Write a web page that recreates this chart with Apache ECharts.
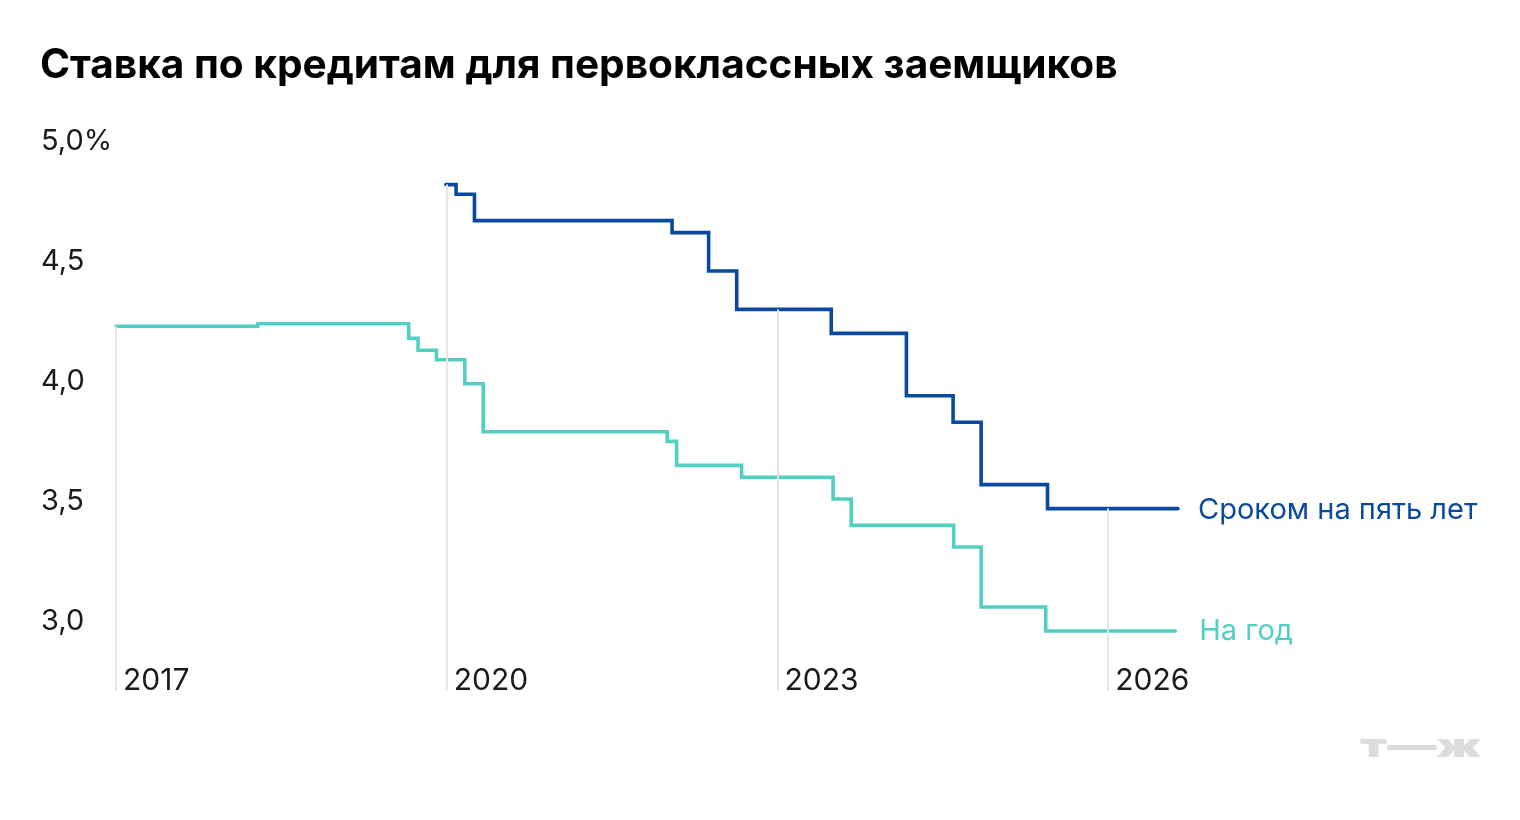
<!DOCTYPE html>
<html>
<head>
<meta charset="utf-8">
<script src="https://cdn.jsdelivr.net/npm/echarts@6/dist/echarts.min.js"></script>
<style>
html,body{margin:0;padding:0;background:#fff;}
#chart{width:1520px;height:820px;}
</style>
</head>
<body>
<div id="chart"></div>
<script>
// ---- data ----
const titleText = 'Ставка по кредитам для первоклассных заемщиков';
const oneYearName = 'На год';
const fiveYearName = 'Сроком на пять лет';

const oneYearDates = ['2017-01-01','2018-04-15','2019-08-28','2019-09-28','2019-11-28','2020-03-01','2020-05-01','2022-01-01','2022-02-01','2022-09-04','2023-07-04','2023-09-02','2024-08-07','2024-11-06','2025-06-08','2026-08-11'];
const oneYearRates = [4.27,4.28,4.22,4.17,4.13,4.03,3.83,3.79,3.69,3.64,3.55,3.44,3.35,3.10,3.00,3.00];

const fiveYearDates = ['2019-12-29','2020-02-01','2020-04-02','2022-01-17','2022-05-18','2022-08-19','2023-06-28','2024-03-03','2024-08-05','2024-11-06','2025-06-14','2026-08-20'];
const fiveYearRates = [4.86,4.82,4.71,4.66,4.50,4.34,4.24,3.98,3.87,3.61,3.51,3.51];

const yearTicks = [2017, 2020, 2023, 2026];
const rateTicks = [3.0, 3.5, 4.0, 4.5, 5.0];

// ---- helpers ----
function toYear(s) {
  const d = Date.parse(s + 'T00:00:00Z');
  const y = new Date(d).getUTCFullYear();
  const a = Date.UTC(y, 0, 1), b = Date.UTC(y + 1, 0, 1);
  return y + (d - a) / (b - a);
}
function pts(dates, rates) { return dates.map((d, i) => [toYear(d), rates[i]]); }
function valueAt(dates, rates, yr) {
  let v = null;
  dates.forEach((d, i) => { if (toYear(d) <= yr + 1e-9) v = rates[i]; });
  return v;
}

const oneYearData = pts(oneYearDates, oneYearRates);
const fiveYearData = pts(fiveYearDates, fiveYearRates);
const xMin = 2017;
const xMax = Math.max(oneYearData[oneYearData.length - 1][0], fiveYearData[fiveYearData.length - 1][0]);
const yMin = 2.75, yMax = 5.0;

const gridLines = yearTicks.map(yr => {
  const a = valueAt(oneYearDates, oneYearRates, yr);
  const b = valueAt(fiveYearDates, fiveYearRates, yr);
  const top = Math.max(a == null ? -Infinity : a, b == null ? -Infinity : b);
  return [{ coord: [yr, top] }, { coord: [yr, yMin] }];
});

const blue = '#0a4a9e';
const teal = '#52cfc3';
const FONT = 'Inter, "Noto Sans", sans-serif';

const chart = echarts.init(document.getElementById('chart'), null, { renderer: 'canvas' });
chart.setOption({
  backgroundColor: '#ffffff',
  animation: false,
  title: {
    text: titleText,
    left: 40, top: 45, padding: 0,
    textStyle: { fontFamily: FONT, fontWeight: 700, fontSize: 40.6, color: '#000' }
  },
  grid: { left: 116, right: 342, top: 151, bottom: 129, containLabel: false },
  xAxis: {
    type: 'value', min: xMin, max: xMax,
    axisLine: { show: false }, axisTick: { show: false }, splitLine: { show: false },
    axisLabel: {
      inside: true, margin: -1, customValues: yearTicks,
      align: 'left', verticalAlign: 'bottom', lineHeight: 22, padding: [0, 0, 0, 7],
      fontFamily: FONT, fontSize: 30, color: '#1a1a1a',
      formatter: v => String(Math.round(v))
    }
  },
  yAxis: {
    type: 'value', min: yMin, max: yMax,
    axisLine: { show: false }, axisTick: { show: false }, splitLine: { show: false },
    axisLabel: {
      customValues: rateTicks, margin: 75, align: 'left', verticalAlign: 'bottom', lineHeight: 20,
      fontFamily: FONT, fontSize: 29, color: '#1a1a1a',
      formatter: v => v.toFixed(1).replace('.', ',') + (Math.abs(v - yMax) < 1e-9 ? '%' : '')
    }
  },
  series: [
    {
      name: 'grid', type: 'line', data: oneYearData, step: 'end', z: 1, silent: true,
      showSymbol: false, symbol: 'none', lineStyle: { opacity: 0 },
      markLine: {
        silent: true, symbol: ['none', 'none'], label: { show: false },
        lineStyle: { color: '#e6e6e6', width: 2, type: 'solid' },
        data: gridLines, animation: false
      }
    },
    {
      name: oneYearName, type: 'line', data: oneYearData, step: 'end', z: 3,
      showSymbol: false, symbol: 'none',
      lineStyle: { color: teal, width: 3.6, join: 'miter', cap: 'round' },
      endLabel: { show: true, formatter: oneYearName, distance: 24, color: teal, fontFamily: FONT, fontSize: 29, verticalAlign: 'middle' }
    },
    {
      name: fiveYearName, type: 'line', data: fiveYearData, step: 'end', z: 4,
      showSymbol: false, symbol: 'none',
      lineStyle: { color: blue, width: 3.6, join: 'miter', cap: 'round' },
      endLabel: { show: true, formatter: fiveYearName, distance: 20, color: blue, fontFamily: FONT, fontSize: 29, verticalAlign: 'middle', offset: [0, 2] }
    }
  ],
  graphic: [
    {
      type: 'text', left: 1360, top: 731, scaleX: 1.5,
      style: { text: 'т—ж', fontFamily: FONT, fontWeight: 900, fontSize: 33, fill: '#dcdcdc' }
    }
  ]
});
</script>
</body>
</html>
